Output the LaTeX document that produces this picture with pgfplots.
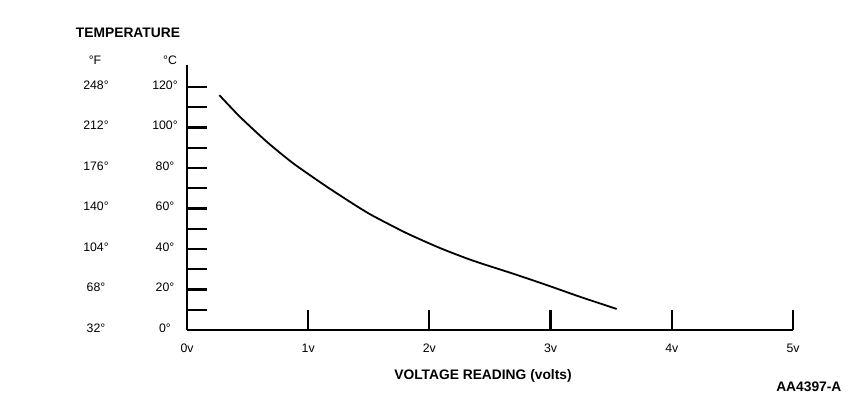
\documentclass[border=0pt]{standalone}
\usepackage{pgfplots}
\pgfplotsset{compat=1.18}
\usepackage{fontspec}
\setmainfont{Liberation Sans}
\tikzset{lbl/.style={font=\fontsize{12.3}{14}\selectfont},
         blbl/.style={font=\bfseries\fontsize{13.8}{16}\selectfont}}
\begin{document}
\begin{tikzpicture}[x=1pt,y=1pt]
\path[use as bounding box] (0,0) rectangle (855,397);
\begin{axis}[
  at={(187pt,67pt)}, anchor=south west,
  scale only axis, width=606pt, height=265pt,
  xmin=0, xmax=5, ymin=0, ymax=130.9,
  axis x line=bottom, axis y line=left,
  axis line style={line width=2.2pt, -},
  xtick={1,2,3,4,5}, xticklabels={},
  ytick={10,20,...,120}, yticklabels={},
  major tick length=20pt, tick align=inside,
  tick style={line width=2.2pt, black},
  clip=false,
]
\addplot[black, line width=1.8pt, smooth, tension=0.4] coordinates {
(0.267,116.0) (0.437,105.3) (0.658,93.0) (0.877,82.3) (1.153,70.8)
(1.400,61.2) (1.537,56.3) (1.813,47.8) (2.087,40.5) (2.362,34.2)
(2.692,27.8) (2.968,22.2) (3.243,16.4) (3.545,10.4)};
\node[lbl] at ([xshift=-22pt,yshift=2pt]axis cs:0,0) {0°};
\node[lbl] at ([xshift=-22pt,yshift=2pt]axis cs:0,20) {20°};
\node[lbl] at ([xshift=-22pt,yshift=2pt]axis cs:0,40) {40°};
\node[lbl] at ([xshift=-22pt,yshift=2pt]axis cs:0,60) {60°};
\node[lbl] at ([xshift=-22pt,yshift=2pt]axis cs:0,80) {80°};
\node[lbl] at ([xshift=-22pt,yshift=2pt]axis cs:0,100) {100°};
\node[lbl] at ([xshift=-22pt,yshift=2pt]axis cs:0,120) {120°};
\node[lbl] at ([xshift=-91pt,yshift=2pt]axis cs:0,0) {32°};
\node[lbl] at ([xshift=-91pt,yshift=2pt]axis cs:0,20) {68°};
\node[lbl] at ([xshift=-91pt,yshift=2pt]axis cs:0,40) {104°};
\node[lbl] at ([xshift=-91pt,yshift=2pt]axis cs:0,60) {140°};
\node[lbl] at ([xshift=-91pt,yshift=2pt]axis cs:0,80) {176°};
\node[lbl] at ([xshift=-91pt,yshift=2pt]axis cs:0,100) {212°};
\node[lbl] at ([xshift=-91pt,yshift=2pt]axis cs:0,120) {248°};
\node[lbl] at ([yshift=-18pt]axis cs:0,0) {0v};
\node[lbl] at ([yshift=-18pt]axis cs:1,0) {1v};
\node[lbl] at ([yshift=-18pt]axis cs:2,0) {2v};
\node[lbl] at ([yshift=-18pt]axis cs:3,0) {3v};
\node[lbl] at ([yshift=-18pt]axis cs:4,0) {4v};
\node[lbl] at ([yshift=-18pt]axis cs:5,0) {5v};
\end{axis}
\node[blbl] at (128,364) {TEMPERATURE};
\node[lbl] at (95,337) {°F};
\node[lbl] at (170,337) {°C};
\node[blbl] at (483,21) {VOLTAGE READING (volts)};
\node[blbl, anchor=east] at (845,10.5) {AA4397-A};
\end{tikzpicture}
\end{document}
